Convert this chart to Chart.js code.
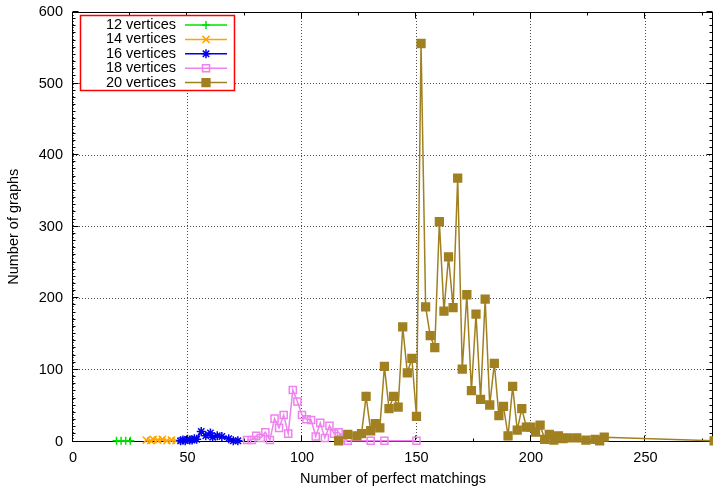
<!DOCTYPE html>
<html>
<head>
<meta charset="utf-8">
<script src="https://cdn.jsdelivr.net/npm/chart.js@4.4.1/dist/chart.umd.min.js"></script>
<style>
html, body { margin: 0; padding: 0; background: #fff; }
canvas { display: block; }
</style>
</head>
<body>
<canvas id="chart" width="713" height="486"></canvas>
<script>
// ---------------- Data ----------------
const seriesLabels = ['12 vertices', '14 vertices', '16 vertices', '18 vertices', '20 vertices'];

const matchings12 = [19, 21, 23, 25];
const graphs12    = [1, 1, 1, 1];

const matchings14 = [32, 34, 35, 37, 39, 41, 43, 45];
const graphs14    = [2, 1, 3, 2, 3, 1, 2, 1];

const matchings16 = [47, 48, 49, 50, 51, 52, 53, 54, 56, 58, 60, 61, 63, 65, 68, 70, 72];
const graphs16    = [1, 2, 1, 3, 2, 2, 4, 3, 14, 8, 12, 6, 8, 7, 4, 1, 1];

const matchings18 = [76, 78, 80, 82, 84, 86, 88, 90, 92, 94, 96, 98, 100, 102, 104, 106, 108, 110, 112, 114, 116, 118, 120, 130, 136, 150];
const graphs18    = [2, 2, 8, 5, 13, 2, 32, 19, 37, 11, 72, 56, 37, 31, 30, 7, 26, 5, 22, 11, 13, 5, 1, 1, 1, 1];

const matchings20 = [116, 120, 124, 126, 128, 130, 132, 134, 136, 138, 140, 142, 144, 146, 148, 150,
                     152, 154, 156, 158, 160, 162, 164, 166, 168, 170, 172, 174, 176, 178, 180, 182,
                     184, 186, 188, 190, 192, 194, 196, 198, 200, 202, 204, 206, 208, 210, 212, 214,
                     216, 220, 224, 228, 230, 232, 280];
const graphs20    = [1, 10, 8, 11, 63, 15, 25, 19, 105, 46, 63, 48, 160, 96, 116, 35,
                     556, 188, 148, 131, 307, 182, 258, 187, 368, 101, 205, 71, 178, 59, 199, 51,
                     109, 36, 49, 8, 77, 16, 46, 20, 20, 13, 23, 3, 10, 2, 8, 4,
                     5, 5, 2, 3, 1, 6, 1];

const xTicks = [0, 50, 100, 150, 200, 250];
const yTicks = [0, 100, 200, 300, 400, 500, 600];

// ---------------- Styles ----------------
const colors = ['#00e000', '#ffa500', '#0000ee', '#ee82ee', '#a08020'];
const fills  = ['#00e000', '#ffa500', '#0000ee', 'rgba(0,0,0,0)', '#a08020'];
const styles = ['cross', 'crossRot', 'star', 'rect', 'rect'];
const radii  = [4, 5, 4.5, 5, 5.5];

const xs = [matchings12, matchings14, matchings16, matchings18, matchings20];
const ys = [graphs12, graphs14, graphs16, graphs18, graphs20];

const datasets = seriesLabels.map((lab, i) => ({
    label: lab,
    data: xs[i].map((x, j) => ({x, y: ys[i][j]})),
    showLine: true,
    borderColor: colors[i],
    backgroundColor: fills[i],
    borderWidth: 1.5,
    pointStyle: styles[i],
    pointRadius: radii[i],
    pointBorderWidth: 1.5,
    pointBorderColor: colors[i],
    pointBackgroundColor: fills[i],
    order: 4 - i,
    clip: false
}));

const FONT = "'Liberation Sans', Arial, sans-serif";
const FSIZE = 14.5;

// ---------------- Frame, ticks, legend ----------------
const framePlugin = {
    id: 'frame',
    beforeDatasetsDraw(chart) {
        const {ctx, chartArea: a, scales: {x, y}} = chart;
        const L = Math.round(a.left) - 0.5, R = Math.round(a.right) - 0.5;
        const T = Math.round(a.top) + 0.5, B = Math.round(a.bottom) - 0.5;
        ctx.save();
        ctx.strokeStyle = '#000';
        ctx.lineWidth = 1;
        ctx.strokeRect(L, T, R - L, B - T);
        ctx.beginPath();
        for (let v = 0; v <= 600; v += 10) {
            const py = Math.round(y.getPixelForValue(v)) - 0.5;
            const len = v % 100 === 0 ? 6 : 3;
            ctx.moveTo(L, py); ctx.lineTo(L + len, py);
            ctx.moveTo(R, py); ctx.lineTo(R - len, py);
        }
        for (let v = 0; v <= 275; v += 25) {
            const px = Math.round(x.getPixelForValue(v)) - 0.5;
            const len = v % 50 === 0 ? 6 : 3;
            ctx.moveTo(px, B); ctx.lineTo(px, B - len);
            ctx.moveTo(px, T); ctx.lineTo(px, T + len);
        }
        ctx.stroke();
        ctx.restore();
    },
    afterDraw(chart) {
        const ctx = chart.ctx;
        const box = {x: 80.5, y: 15.5, w: 154, h: 75};
        ctx.save();
        ctx.fillStyle = '#fff';
        ctx.fillRect(box.x, box.y, box.w, box.h);
        ctx.strokeStyle = '#ff0000';
        ctx.lineWidth = 1.5;
        ctx.strokeRect(box.x, box.y, box.w, box.h);
        ctx.font = FSIZE + 'px ' + FONT;
        ctx.textAlign = 'right';
        ctx.textBaseline = 'middle';
        chart.data.datasets.forEach((ds, i) => {
            const yy = 25 + i * 14.4;
            ctx.fillStyle = '#000';
            ctx.fillText(ds.label, 176, yy);
            ctx.strokeStyle = ds.borderColor;
            ctx.lineWidth = 1.5;
            ctx.beginPath();
            ctx.moveTo(185, yy); ctx.lineTo(227, yy);
            ctx.stroke();
            ctx.fillStyle = ds.pointBackgroundColor;
            Chart.helpers.drawPoint(ctx, {pointStyle: ds.pointStyle, radius: ds.pointRadius, rotation: 0, borderWidth: 1.5}, 206, yy);
        });
        ctx.restore();
    }
};

// ---------------- Chart ----------------
new Chart(document.getElementById('chart'), {
    type: 'scatter',
    data: {datasets},
    options: {
        responsive: false,
        devicePixelRatio: 1,
        animation: false,
        layout: {autoPadding: false, padding: {top: 12, right: 0, left: 0, bottom: 0}},
        plugins: {legend: {display: false}, tooltip: {enabled: false}},
        scales: {
            x: {
                type: 'linear', min: 0, max: 279.5,
                afterBuildTicks: s => { s.ticks = xTicks.map(v => ({value: v})); },
                afterFit: s => { s.height = 44.5; s.paddingLeft = 0; s.paddingRight = 0; },
                grid: {color: 'rgba(0,0,0,0.7)', drawTicks: false},
                border: {display: false, dash: [1, 2]},
                ticks: {color: '#000', font: {family: FONT, size: FSIZE}, padding: 8, maxRotation: 0},
                title: {display: true, text: 'Number of perfect matchings', color: '#000',
                        font: {family: FONT, size: FSIZE}, padding: {top: 0, bottom: -2}}
            },
            y: {
                type: 'linear', min: 0, max: 600,
                afterBuildTicks: s => { s.ticks = yTicks.map(v => ({value: v})); },
                afterFit: s => { s.width = 73; s.paddingTop = 0; s.paddingBottom = 0; },
                grid: {color: 'rgba(0,0,0,0.7)', drawTicks: false},
                border: {display: false, dash: [1, 2]},
                ticks: {color: '#000', font: {family: FONT, size: FSIZE}, padding: 10},
                title: {display: true, text: 'Number of graphs', color: '#000',
                        font: {family: FONT, size: FSIZE}, padding: {top: 5, bottom: 0}}
            }
        }
    },
    plugins: [framePlugin]
});
</script>
</body>
</html>
